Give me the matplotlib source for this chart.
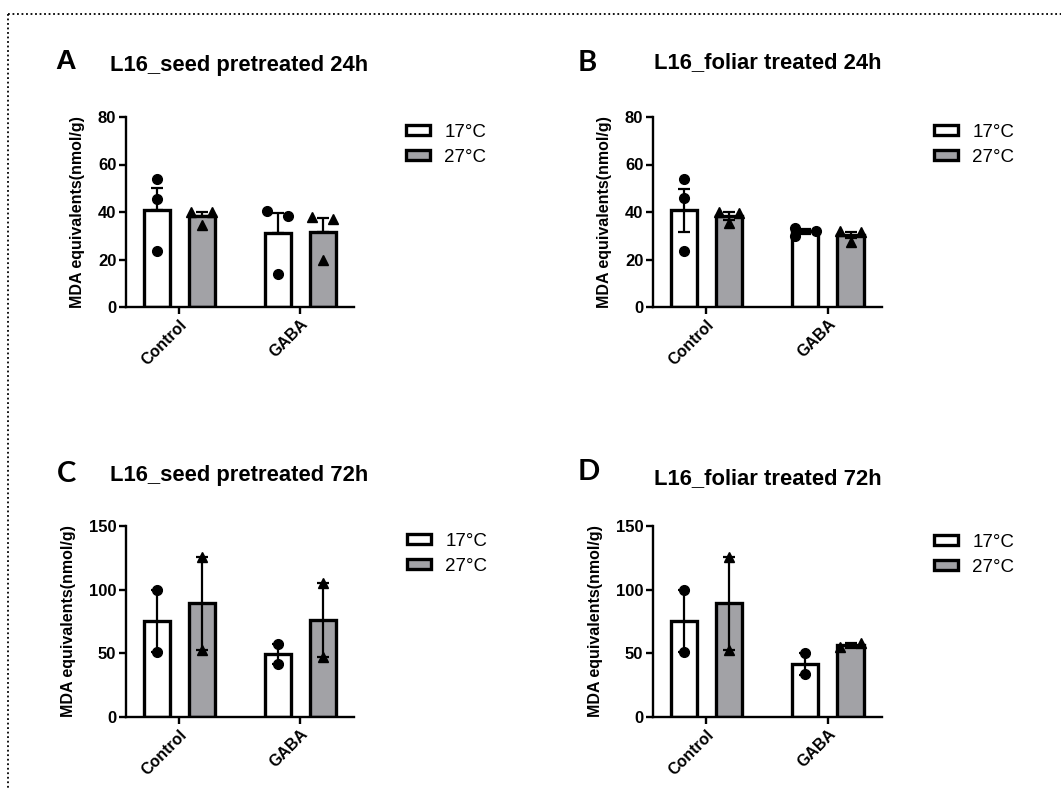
import numpy as np
import matplotlib
matplotlib.use('Agg')
import matplotlib.pyplot as plt
from matplotlib.patches import Patch
from matplotlib.lines import Line2D

plt.rcParams['font.family'] = ['Liberation Sans', 'DejaVu Sans']

# ---- data (one list entry per treatment group) ----
groups = ['Control', 'GABA']
temps = ['17°C', '27°C']

# A: seed pretreated 24h
mean_A_17 = [41.0, 31.0]
mean_A_27 = [38.3, 31.6]
err_A_17 = [9.0, 8.5]
err_A_27 = [1.8, 5.9]
pts_A_17 = [[54, 45.5, 23.5], [40.5, 38.5, 14]]
pts_A_27 = [[40, 40, 34.5], [38, 37, 20]]

# B: foliar treated 24h
mean_B_17 = [40.7, 31.8]
mean_B_27 = [38.2, 30.3]
err_B_17 = [9.1, 1.2]
err_B_27 = [1.6, 1.4]
pts_B_17 = [[54, 46, 23.5], [33.3, 32, 29.8]]
pts_B_27 = [[39.9, 39.7, 35.2], [31.9, 31.4, 27.5]]

# C: seed pretreated 72h
mean_C_17 = [75.3, 49.6]
mean_C_27 = [89.2, 76.1]
err_C_17 = [24.4, 8.1]
err_C_27 = [36.7, 28.9]
pts_C_17 = [[99.6, 51.1], [57.7, 41.5]]
pts_C_27 = [[125.9, 52.5], [105, 47.2]]

# D: foliar treated 72h
mean_D_17 = [75.3, 41.6]
mean_D_27 = [89.2, 56.5]
err_D_17 = [24.4, 8.3]
err_D_27 = [36.7, 2.0]
pts_D_17 = [[99.6, 51.1], [49.9, 33.4]]
pts_D_27 = [[125.9, 52.5], [54.6, 58.5]]

W, H = 1061, 789
GREY = '#a2a2a6'


def px(x, y):
    # pixel position (from top-left) -> figure fraction
    return x / W, 1 - y / H


def axes_rect(left, right, top, bottom):
    return [left / W, 1 - bottom / H, (right - left) / W, (bottom - top) / H]


def jitter(vals, thresh, d):
    # spread points that would overlap, alternating left/right like Prism
    n = len(vals)
    idx = sorted(range(n), key=lambda i: vals[i])
    clusters, cur = [], [idx[0]]
    for a, b in zip(idx, idx[1:]):
        if vals[b] - vals[a] < thresh:
            cur.append(b)
        else:
            clusters.append(cur)
            cur = [b]
    clusters.append(cur)
    offs = [0.0] * n
    for c in clusters:
        if len(c) > 1:
            for k, i in enumerate(sorted(c)):
                offs[i] = -d if k % 2 == 0 else d
    return offs


def panel(rect, m17, m27, e17, e27, p17, p27, ymax, ystep, upper_only):
    ax = fig.add_axes(rect)
    x = np.arange(len(groups))
    off, bw = 0.186, 0.215
    series = [(m17, e17, p17, 'white', 'o', -off, temps[0]),
              (m27, e27, p27, GREY, '^', off, temps[1])]
    handles = []
    for means, errs, pts, fc, mk, dx, lab in series:
        ax.bar(x + dx, means, bw, color=fc, edgecolor='black', linewidth=2.4, zorder=2)
        if upper_only:
            yerr = [np.zeros(len(errs)), errs]
        else:
            yerr = errs
        ax.errorbar(x + dx, means, yerr=yerr, fmt='none', ecolor='black',
                    elinewidth=1.6, capsize=4.5, capthick=1.6, zorder=3)
        for i, vals in enumerate(pts):
            jo = jitter(vals, 0.044 * ymax, 0.085)
            ax.plot(x[i] + dx + np.array(jo), vals, linestyle='none', marker=mk,
                    color='black', markersize=7, zorder=4)
        handles.append(Patch(facecolor=fc, edgecolor='black', linewidth=2.4, label=lab))
    ax.set_xlim(-0.44, 1.445)
    ax.set_ylim(0, ymax)
    ax.set_yticks(np.arange(0, ymax + 1, ystep))
    ax.set_xticks(x)
    ax.set_xticklabels(groups, rotation=45, ha='right', va='top',
                       rotation_mode='anchor', fontsize=11.5, fontweight='bold')
    for t in ax.get_yticklabels():
        t.set_fontsize(12)
        t.set_fontweight('bold')
    ax.spines['top'].set_visible(False)
    ax.spines['right'].set_visible(False)
    ax.spines['left'].set_linewidth(1.7)
    ax.spines['bottom'].set_linewidth(1.7)
    ax.tick_params(width=1.7, length=5, pad=2)
    ax.set_ylabel('MDA equivalents(nmol/g)', fontsize=11.5, fontweight='bold', labelpad=9)
    return ax, handles


fig = plt.figure(figsize=(W / 100, H / 100), dpi=100)

layout = [
    (axes_rect(126, 354, 117, 307), mean_A_17, mean_A_27, err_A_17, err_A_27, pts_A_17, pts_A_27, 80, 20, True),
    (axes_rect(653, 882, 117, 307), mean_B_17, mean_B_27, err_B_17, err_B_27, pts_B_17, pts_B_27, 80, 20, False),
    (axes_rect(126, 354, 526, 717), mean_C_17, mean_C_27, err_C_17, err_C_27, pts_C_17, pts_C_27, 150, 50, False),
    (axes_rect(653, 882, 526, 717), mean_D_17, mean_D_27, err_D_17, err_D_27, pts_D_17, pts_D_27, 150, 50, False),
]
legend_pos = [(406, 124), (934, 124), (407, 533), (934, 534)]

for (rect, *args), lp in zip(layout, legend_pos):
    ax, handles = panel(rect, *args)
    ax.legend(handles=handles, loc='upper left', bbox_to_anchor=px(*lp),
              bbox_transform=fig.transFigure, frameon=False, fontsize=13.5,
              handlelength=1.3, handleheight=0.45, handletextpad=0.75,
              labelspacing=0.42, borderpad=0, borderaxespad=0)

# panel letters and titles
letters = [('A', 55, 62, 'Liberation Sans', 20.5), ('B', 578, 63, 'Lato', 21),
           ('C', 57, 474, 'Lato', 21), ('D', 578, 472, 'Lato', 21)]
for s, lx, ly, fam, fs in letters:
    fig.text(*px(lx, ly), s, ha='left', va='center', fontsize=fs,
             fontweight='bold', family=fam)

titles = [('L16_seed pretreated 24h', 110, 65), ('L16_foliar treated 24h', 654, 63),
          ('L16_seed pretreated 72h', 110, 475), ('L16_foliar treated 72h', 654, 479)]
for s, tx, ty in titles:
    fig.text(*px(tx, ty), s, ha='left', va='center', fontsize=15.8, fontweight='bold')

# dotted frame on top and left
fig.add_artist(Line2D([8 / W, 1], [1 - 14 / H] * 2, transform=fig.transFigure,
                      color='black', linewidth=1.3, linestyle=(0, (1, 1.5))))
fig.add_artist(Line2D([8 / W] * 2, [1 - 14 / H, 0], transform=fig.transFigure,
                      color='black', linewidth=1.3, linestyle=(0, (1, 1.5))))

fig.savefig('out.png', dpi=100)
